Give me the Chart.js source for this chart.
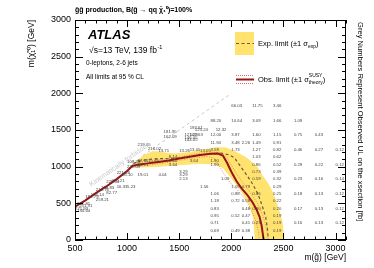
<!DOCTYPE html>
<html><head><meta charset="utf-8">
<script src="https://cdn.jsdelivr.net/npm/chart.js@4.4.1/dist/chart.umd.min.js"></script>
<style>html,body{margin:0;padding:0;background:#fff;}#wrap{width:374px;height:268px;}</style>
</head><body><div id="wrap"><canvas id="c" width="374" height="268"></canvas></div>
<script>
// ---------------- data ----------------
const xTickValues = [500, 1000, 1500, 2000, 2500, 3000];
const yTickValues = [0, 500, 1000, 1500, 2000, 2500, 3000];

// observed limit contour
const obsMg   = [500, 600, 700, 800, 900, 1000, 1050, 1100, 1200, 1300, 1400, 1500, 1600, 1700, 1800, 1870, 1920, 1960, 2000, 2050, 2100, 2150, 2200, 2240, 2270, 2290, 2300, 2310];
const obsMchi = [455, 540, 640, 730, 830, 940, 1010, 1025, 1045, 1065, 1085, 1110, 1135, 1160, 1175, 1180, 1150, 1050, 930, 800, 700, 620, 520, 420, 320, 200, 100, 0];
// observed +1 sigma(theory)
const obsUpMg   = [1050, 1100, 1200, 1300, 1400, 1500, 1600, 1700, 1800, 1900, 1960, 2000, 2050, 2100, 2150, 2200, 2250, 2290, 2320, 2340, 2350];
const obsUpMchi = [1030, 1050, 1070, 1090, 1110, 1135, 1160, 1185, 1200, 1195, 1120, 1020, 900, 800, 710, 610, 500, 380, 250, 120, 0];
// observed -1 sigma(theory)
const obsDnMg   = [1050, 1100, 1200, 1300, 1400, 1500, 1600, 1700, 1780, 1840, 1880, 1930, 1990, 2060, 2120, 2170, 2210, 2240, 2260, 2270];
const obsDnMchi = [990, 1000, 1020, 1040, 1060, 1085, 1110, 1130, 1140, 1110, 1020, 900, 780, 680, 580, 470, 350, 230, 110, 0];
// expected limit
const expMg   = [1060, 1100, 1200, 1300, 1400, 1500, 1600, 1700, 1800, 1900, 1980, 2030, 2110, 2160, 2210, 2260, 2300, 2330, 2345, 2355];
const expMchi = [1040, 1070, 1100, 1110, 1110, 1120, 1140, 1160, 1175, 1185, 1160, 1120, 960, 860, 750, 610, 450, 310, 170, 0];
// expected +-1 sigma band (outline, upper edge then lower edge)
const bandMg   = [1050, 1100, 1160, 1250, 1350, 1450, 1600, 1750, 1850, 1950, 2050, 2150, 2250, 2300, 2350, 2400, 2450, 2490, 2510,
                  2225, 2210, 2170, 2090, 2000, 1920, 1850, 1700, 1500, 1300, 1150, 1080];
const bandMchi = [1030, 1090, 1160, 1215, 1195, 1180, 1200, 1240, 1265, 1260, 1200, 1120, 1000, 880, 780, 650, 450, 250, 0,
                  0, 300, 480, 670, 840, 980, 1030, 1040, 1020, 1000, 990, 1000];
// kinematic boundary m(gluino) = m(neutralino)
const diagMg   = [1150, 2000];
const diagMchi = [1150, 2000];

// grey numbers: observed UL on the cross-section [fb] at grid points
const ulMg   = [2000, 2200, 2400,
                1800, 2000, 2200, 2400, 2600,
                1600, 1650, 1850,
                1600, 1800, 2000, 2200, 2400, 2600, 2800,
                1550, 1800, 2000, 2100, 2200, 2400,
                1600, 1800, 2000, 2200, 2400, 2600, 2800, 3000,
                1400, 2200, 2400,
                1400, 1800, 2200, 2400, 2600, 2800, 3000,
                1500, 2200, 2400,
                1500, 1900, 2200, 2400, 2600, 2800, 3000,
                1700, 2000, 2100, 2400,
                1800, 2000, 2200, 2400, 2600, 2800, 3000,
                1800, 2000, 2100, 2400,
                1800, 2100, 2200, 2400, 2600, 2800, 3000,
                1800, 2000, 2100, 2400,
                1800, 2100, 2200, 2400, 2600, 2800, 3000,
                1800, 2000, 2100, 2400,
                1100, 1350, 1550, 1350, 1550,
                1200, 1300, 1500, 1700,
                1000, 1100, 1200, 1400, 1600, 1800,
                1000, 1100,
                900, 950, 1100, 1300, 1500,
                800, 850, 900, 1000,
                700, 750, 800,
                600, 650, 700,
                520, 540, 500, 520];
const ulMchi = [1800, 1800, 1800,
                1600, 1600, 1600, 1600, 1600,
                1500, 1470, 1470,
                1400, 1400, 1400, 1400, 1400, 1400, 1400,
                1330, 1300, 1300, 1300, 1300, 1300,
                1200, 1200, 1200, 1200, 1200, 1200, 1200, 1200,
                1100, 1100, 1100,
                1000, 1000, 1000, 1000, 1000, 1000, 1000,
                900, 900, 900,
                800, 800, 800, 800, 800, 800, 800,
                700, 700, 700, 700,
                600, 600, 600, 600, 600, 600, 600,
                500, 500, 500, 500,
                400, 400, 400, 400, 400, 400, 400,
                300, 300, 300, 300,
                200, 200, 200, 200, 200, 200, 200,
                100, 100, 100, 100,
                1270, 1440, 1400, 1380, 1360,
                1220, 1180, 1180, 1180,
                1030, 1050, 1050, 1050, 1050, 1050,
                970, 990,
                880, 860, 860, 860, 860,
                760, 780, 700, 700,
                660, 680, 620,
                560, 580, 520,
                460, 430, 400, 370];
const ulVal  = ['66.03', '11.75', '3.46',
                '88.20', '10.64', '3.09', '1.66', '1.09',
                '193.61', '125.24', '12.32',
                '102.63', '12.00', '3.87', '1.60', '1.15', '0.75', '0.43',
                '144.05', '11.94', '3.48', '2.26', '1.49', '0.91',
                '13.05', '3.58', '1.73', '1.27', '0.82', '0.46', '0.27', '0.12',
                '8.14', '1.03', '0.62',
                '3.64', '1.90', '0.86', '0.52', '0.29', '0.22', '0.12',
                '3.29', '0.73', '0.39',
                '2.13', '1.09', '0.59', '0.32', '0.23', '0.16', '0.14',
                '1.56', '1.09', '0.79', '0.29',
                '1.06', '0.88', '0.46', '0.25', '0.18', '0.13', '0.12',
                '1.18', '0.72', '0.58', '0.22',
                '0.83', '0.48', '0.30', '0.20', '0.17', '0.13', '0.12',
                '0.95', '0.52', '0.47', '0.19',
                '0.71', '0.41', '0.23', '0.19', '0.16', '0.13', '0.12',
                '0.69', '0.49', '0.38', '0.19',
                '219.65', '181.95', '121.29', '162.09', '146.05',
                '216.02', '13.71', '13.26', '13.05',
                '108.28', '87.66', '15.49', '4.10', '3.64', '1.90',
                '227.09', '63.71',
                '221.58', '86.10', '19.01', '4.04', '3.29',
                '229.14', '226.21', '16.33', '5.23',
                '210.76', '188.83', '82.77',
                '184.79', '176.14', '259.21',
                '261.81', '251.31', '271.93', '234.64'];

// ---------------- chart ----------------
const FONT = "'Liberation Sans', Arial, Helvetica, sans-serif";
const YELLOW = 'rgb(255, 227, 110)';
const DARKRED = 'rgb(150, 20, 20)';
const PINK = 'rgb(220, 110, 110)';

function pts(xs, ys) { return xs.map((v, i) => ({x: v, y: ys[i]})); }

const overlay = {
  id: 'overlay',
  beforeDatasetsDraw(chart) {
    const {ctx, chartArea: a} = chart;
    ctx.save();
    ctx.fillStyle = '#fff';
    ctx.fillRect(a.left, a.top, a.right - a.left, a.bottom - a.top);
    ctx.restore();
  },
  afterDatasetsDraw(chart) {
    const {ctx, chartArea: a, scales: {x, y}} = chart;
    ctx.save();
    ctx.beginPath(); ctx.rect(a.left, a.top, a.right - a.left, a.bottom - a.top); ctx.clip();
    ctx.fillStyle = '#444';
    ctx.font = '4.3px ' + FONT;
    ctx.textAlign = 'left'; ctx.textBaseline = 'bottom';
    for (let i = 0; i < ulVal.length; i++) {
      ctx.fillText(ulVal[i], x.getPixelForValue(ulMg[i]), y.getPixelForValue(ulMchi[i]));
    }
    // Kinematically forbidden label along the diagonal
    const px = x.getPixelForValue(930), py = y.getPixelForValue(1030);
    const ang = Math.atan2(y.getPixelForValue(0) - y.getPixelForValue(1000), x.getPixelForValue(1500) - x.getPixelForValue(500));
    ctx.translate(px, py); ctx.rotate(-ang);
    ctx.fillStyle = '#c8c8c8'; ctx.font = '7px ' + FONT; ctx.textAlign = 'center'; ctx.textBaseline = 'middle';
    ctx.fillText('Kinematically forbidden', 0, 0);
    ctx.restore();
  },
  afterDraw(chart) {
    const {ctx, chartArea: a, scales: {x, y}} = chart;
    ctx.save();
    ctx.strokeStyle = '#000'; ctx.lineWidth = 1;
    ctx.strokeRect(a.left + 0.5, a.top + 0.5, a.right - a.left - 1, a.bottom - a.top - 1);
    ctx.beginPath();
    for (let v = 500; v <= 3100; v += 100) {
      const p = Math.round(x.getPixelForValue(v)) + 0.5;
      const L = v % 500 === 0 ? 7 : 3.5;
      ctx.moveTo(p, a.bottom); ctx.lineTo(p, a.bottom - L);
      ctx.moveTo(p, a.top); ctx.lineTo(p, a.top + L);
    }
    for (let v = 0; v <= 3000; v += 100) {
      const p = Math.round(y.getPixelForValue(v)) + 0.5;
      const L = v % 500 === 0 ? 8 : 4;
      ctx.moveTo(a.left, p); ctx.lineTo(a.left + L, p);
      ctx.moveTo(a.right, p); ctx.lineTo(a.right - L, p);
    }
    ctx.stroke();

    ctx.fillStyle = '#000';
    // title
    ctx.font = 'bold 7px ' + FONT; ctx.textBaseline = 'alphabetic'; ctx.textAlign = 'left';
    ctx.fillText('g̃g̃ production, B(g̃ → qq χ̃₁⁰)=100%', 75, 12);
    // ATLAS block
    ctx.font = 'italic bold 13px ' + FONT;
    ctx.fillText('ATLAS', 88, 39);
    ctx.font = '8.5px ' + FONT;
    ctx.fillText('√s=13 TeV, 139 fb', 89, 53);
    const w1 = ctx.measureText('√s=13 TeV, 139 fb').width;
    ctx.font = '5.5px ' + FONT; ctx.fillText('-1', 89 + w1 + 0.5, 49);
    ctx.font = '6.5px ' + FONT;
    ctx.fillText('0-leptons, 2-6 jets', 86, 65);
    ctx.fillText('All limits at 95 % CL', 86, 79);

    // legend
    ctx.fillStyle = YELLOW; ctx.fillRect(235, 32, 19, 23);
    ctx.strokeStyle = '#6e5a3a'; ctx.lineWidth = 1; ctx.setLineDash([3, 2.5]);
    ctx.beginPath(); ctx.moveTo(236, 43.5); ctx.lineTo(254, 43.5); ctx.stroke();
    ctx.setLineDash([1, 1]); ctx.strokeStyle = PINK;
    ctx.beginPath(); ctx.moveTo(236, 75.5); ctx.lineTo(254, 75.5); ctx.moveTo(236, 83.5); ctx.lineTo(254, 83.5); ctx.stroke();
    ctx.setLineDash([]); ctx.strokeStyle = DARKRED; ctx.lineWidth = 2;
    ctx.beginPath(); ctx.moveTo(236, 79.5); ctx.lineTo(254, 79.5); ctx.stroke();
    ctx.fillStyle = '#000'; ctx.textBaseline = 'middle';
    ctx.font = '7.5px ' + FONT;
    let t = 'Exp. limit (±1 σ'; ctx.fillText(t, 258, 44);
    let w = ctx.measureText(t).width;
    ctx.font = '5px ' + FONT; ctx.fillText('exp', 258 + w, 46.5);
    let w2 = ctx.measureText('exp').width;
    ctx.font = '7.5px ' + FONT; ctx.fillText(')', 258 + w + w2, 44);
    t = 'Obs. limit (±1 σ'; ctx.fillText(t, 258, 80);
    w = ctx.measureText(t).width;
    ctx.font = '5px ' + FONT; ctx.fillText('SUSY', 258 + w, 76); ctx.fillText('theory', 258 + w, 82.5);
    w2 = ctx.measureText('theory').width;
    ctx.font = '7.5px ' + FONT; ctx.fillText(')', 258 + w + w2, 80);

    // axis titles
    ctx.textBaseline = 'middle';
    ctx.font = '8.5px ' + FONT;
    ctx.save(); ctx.translate(32, 20); ctx.rotate(-Math.PI / 2); ctx.textAlign = 'right';
    ctx.fillText('m(χ̃₁⁰) [GeV]', 0, 0); ctx.restore();
    ctx.textAlign = 'right';
    ctx.fillText('m(g̃) [GeV]', 346, 258);
    // right side annotation
    ctx.save(); ctx.translate(360, 22); ctx.rotate(Math.PI / 2); ctx.textAlign = 'left';
    ctx.font = '7.6px ' + FONT;
    ctx.fillText('Grey Numbers Represent Observed UL on the xsection [fb]', 0, 0); ctx.restore();
    ctx.restore();
  }
};

new Chart(document.getElementById('c'), {
  type: 'scatter',
  data: {
    datasets: [
      {label: 'Obs', data: pts(obsMg, obsMchi), showLine: true, borderColor: DARKRED, borderWidth: 2, pointRadius: 0, fill: false, order: 0},
      {label: 'Obs+1', data: pts(obsUpMg, obsUpMchi), showLine: true, borderColor: PINK, borderWidth: 0.8, borderDash: [1, 1.5], pointRadius: 0, fill: false, order: 1},
      {label: 'Obs-1', data: pts(obsDnMg, obsDnMchi), showLine: true, borderColor: PINK, borderWidth: 0.8, borderDash: [1, 1.5], pointRadius: 0, fill: false, order: 2},
      {label: 'Exp', data: pts(expMg, expMchi), showLine: true, borderColor: '#6e5a3a', borderWidth: 1.2, borderDash: [3, 2.5], pointRadius: 0, fill: false, order: 3},
      {label: 'Band', data: pts(bandMg, bandMchi), showLine: true, borderWidth: 0, borderColor: 'rgba(0,0,0,0)', backgroundColor: YELLOW, pointRadius: 0, fill: 'shape', order: 5},
      {label: 'Diag', data: pts(diagMg, diagMchi), showLine: true, borderColor: '#c8c8c8', borderWidth: 1, borderDash: [3, 3], pointRadius: 0, fill: false, order: 4}
    ]
  },
  options: {
    responsive: false, animation: false, devicePixelRatio: 1,
    layout: {padding: {left: 0, top: 20, right: 28, bottom: 0}},
    plugins: {legend: {display: false}, tooltip: {enabled: false}},
    elements: {line: {tension: 0}},
    scales: {
      x: {type: 'linear', min: 500, max: 3100,
          afterFit(s) { s.height = 28; },
          afterBuildTicks(s) { s.ticks = xTickValues.map(v => ({value: v})); },
          grid: {display: false, drawTicks: false}, border: {display: false},
          ticks: {padding: 3, color: '#000', font: {family: FONT, size: 9}, maxRotation: 0, autoSkip: false, callback: v => String(v)}},
      y: {type: 'linear', min: 0, max: 3000,
          afterFit(s) { s.width = 75; },
          afterBuildTicks(s) { s.ticks = yTickValues.map(v => ({value: v})); },
          grid: {display: false, drawTicks: false}, border: {display: false},
          ticks: {padding: 4, color: '#000', font: {family: FONT, size: 9}, autoSkip: false, callback: v => String(v)}}
    }
  },
  plugins: [overlay]
});
</script>
</body></html>
